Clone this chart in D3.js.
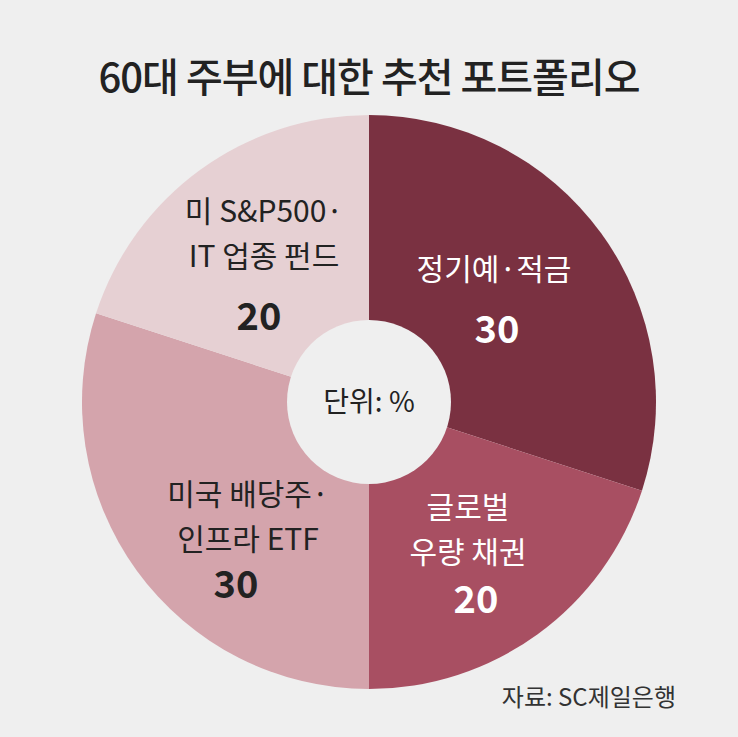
<!DOCTYPE html>
<html><head><meta charset="utf-8">
<script src="https://cdn.jsdelivr.net/npm/d3@7"></script>
<style>body{margin:0;background:#efefef}</style></head>
<body><svg id="c" width="738" height="737"></svg>
<script>
const categories = [["정기예·적금"],["글로벌","우량 채권"],["미국 배당주·","인프라 ETF"],["미 S&P500·","IT 업종 펀드"]];
const values = [30,20,30,20];
const colors = ["#7a3141","#a84f62","#d4a4ac","#e6d0d3"];
const labelPos = [[494,270],[468,508],[248,495],[264,212]];
const svg = d3.select("#c");
const font = "'Noto Sans CJK KR', sans-serif";
svg.append("rect").attr("width",738).attr("height",737).attr("fill","#efefef");
svg.append("text").attr("x",369).attr("y",92).attr("text-anchor","middle")
  .attr("font-family",font).attr("font-size",40).attr("font-weight",500).attr("fill","#222")
  .attr("letter-spacing",-1).text("60대 주부에 대한 추천 포트폴리오");
const cx=369, cy=402, R=287;
const g = svg.append("g").attr("transform",`translate(${cx},${cy})`);
const pie = d3.pie().sort(null).value(d=>d)(values);
const arc = d3.arc().innerRadius(0).outerRadius(R);
g.selectAll("path").data(pie).join("path").attr("d",arc).attr("fill",(d,i)=>colors[i]);
g.append("circle").attr("r",82).attr("fill","#efefef");
g.append("text").attr("y",10).attr("text-anchor","middle").attr("font-family",font)
  .attr("font-size",28).attr("fill","#222").text("단위: %");
pie.forEach((d,i)=>{
  const [x,y]=labelPos[i];
  const fill = i<2 ? "#fff" : "#222";
  const t = svg.append("g");
  categories[i].forEach((line,j)=>{
    t.append("text").attr("x",x).attr("y",y+j*45+10).attr("text-anchor","middle")
      .attr("font-family",font).attr("font-size",30).attr("fill",fill).text(line);
  });
  const ny = y + (categories[i].length-1)*45 + (i===0?70:(i===3?118:58)) ;
  t.append("text").attr("x",x+ (i===0?3:(i===2?-12:(i===1?8:-5)))).attr("y",i===3?330:(i===0?343:(i===1?613:598)))
    .attr("text-anchor","middle").attr("font-family",font).attr("font-size",38).attr("font-weight",700)
    .attr("fill",fill).text(values[i]);
});
svg.append("text").attr("x",676).attr("y",706).attr("text-anchor","end").attr("font-family",font)
  .attr("font-size",24).attr("fill","#333").text("자료: SC제일은행");
</script></body></html>
